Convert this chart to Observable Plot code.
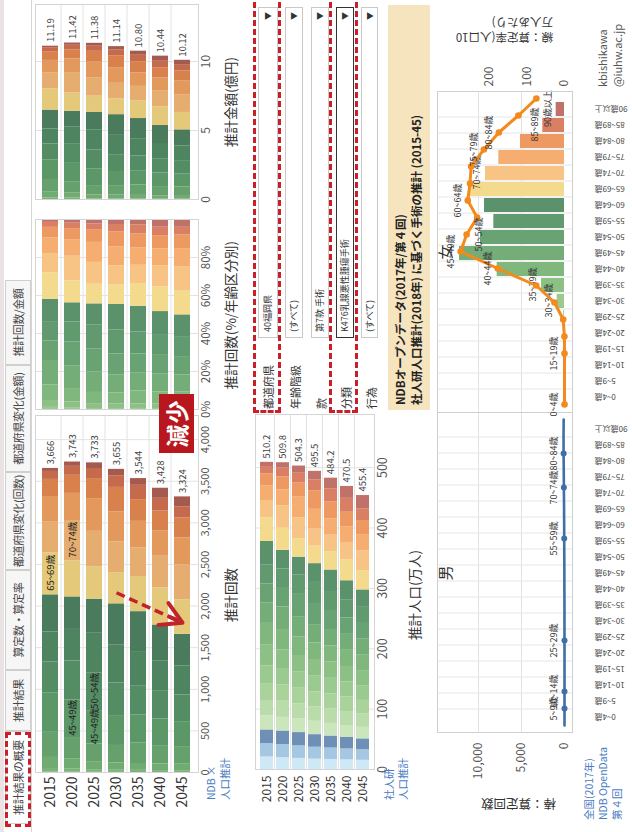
<!DOCTYPE html>
<html lang="ja">
<head>
<meta charset="utf-8">
<script src="https://cdn.jsdelivr.net/npm/d3@7"></script>
<script src="https://cdn.jsdelivr.net/npm/@observablehq/plot@0.6"></script>
<style>
html,body{margin:0;padding:0;background:#fff;width:632px;height:832px;overflow:hidden;}
#root{position:absolute;left:0;top:0;width:832px;height:632px;transform-origin:0 0;transform:translate(0px,832px) rotate(-90deg);font-family:'Noto Sans CJK JP','Noto Sans',sans-serif;color:#333;background:#fff;overflow:hidden;}
#root > *{position:absolute;}
.tab{box-sizing:border-box;border:1px solid #cfcfcf;background:#f6f6f6;font-size:11px;line-height:24px;text-align:center;white-space:nowrap;color:#444;overflow:hidden;letter-spacing:-0.3px;}
.tab.sel{background:#fff;}
.dash{box-sizing:border-box;border:3px dashed #c8202a;}
.flabel{font-size:11px;color:#333;white-space:nowrap;}
.drop{box-sizing:border-box;border:1px solid #c9c9c9;background:#fff;font-size:9px;color:#333;padding-left:5px;white-space:nowrap;}
.drop.on{border:1px solid #333;}
.drop span.arr{position:absolute;right:4px;top:0;font-size:8px;color:#333;}
.ttl{font-size:13.5px;color:#333;text-align:center;white-space:nowrap;}
.link{font-size:10.5px;color:#4a7cc0;line-height:14px;white-space:nowrap;}
.rot{transform:rotate(-90deg);transform-origin:50% 50%;white-space:nowrap;}
</style>
</head>
<body>
<div id="root"></div>
<script>
// ================= DATA =================
const years = ["2015", "2020", "2025", "2030", "2035", "2040", "2045"];
const ageGroups = ["0~4歳", "5~9歳", "10~14歳", "15~19歳", "20~24歳", "25~29歳", "30~34歳", "35~39歳", "40~44歳", "45~49歳", "50~54歳", "55~59歳", "60~64歳", "65~69歳", "70~74歳", "75~79歳", "80~84歳", "85~89歳", "90歳以上"];
const surgeryAges = ["25~29歳", "30~34歳", "35~39歳", "40~44歳", "45~49歳", "50~54歳", "55~59歳", "60~64歳", "65~69歳", "70~74歳", "75~79歳", "80~84歳", "85~89歳", "90歳以上"];

// 推計回数 (福岡県, K476) by year x age (surgeryAges order)
const surgeryCounts = [
  [15, 45, 133, 302, 470, 374, 362, 446, 506, 374, 302, 205, 96, 36],
  [15, 42, 115, 260, 450, 470, 390, 380, 434, 484, 326, 217, 108, 52],
  [14, 25, 96, 220, 400, 450, 480, 410, 386, 429, 393, 241, 121, 68],
  [13, 26, 88, 210, 350, 400, 460, 492, 374, 369, 362, 294, 140, 77],
  [12, 26, 82, 245, 340, 350, 410, 480, 422, 342, 321, 261, 172, 81],
  [11, 24, 80, 220, 320, 340, 360, 430, 444, 382, 302, 241, 153, 121],
  [11, 23, 84, 205, 300, 320, 350, 380, 414, 422, 322, 241, 133, 119]
];
const countTotals = [3666, 3743, 3733, 3655, 3544, 3428, 3324];

// 推計金額 (億円) by year x age
const surgeryAmounts = [
  [0.05, 0.14, 0.41, 0.92, 1.43, 1.14, 1.10, 1.36, 1.54, 1.14, 0.92, 0.63, 0.29, 0.11],
  [0.05, 0.13, 0.35, 0.79, 1.37, 1.43, 1.19, 1.16, 1.32, 1.48, 0.99, 0.66, 0.33, 0.16],
  [0.04, 0.08, 0.29, 0.67, 1.22, 1.37, 1.46, 1.25, 1.18, 1.31, 1.20, 0.74, 0.37, 0.21],
  [0.04, 0.08, 0.27, 0.64, 1.07, 1.22, 1.40, 1.50, 1.14, 1.13, 1.10, 0.90, 0.43, 0.23],
  [0.04, 0.08, 0.25, 0.75, 1.04, 1.07, 1.25, 1.46, 1.29, 1.04, 0.98, 0.80, 0.52, 0.25],
  [0.03, 0.07, 0.24, 0.67, 0.98, 1.04, 1.10, 1.31, 1.35, 1.17, 0.92, 0.74, 0.47, 0.37],
  [0.03, 0.07, 0.26, 0.63, 0.92, 0.98, 1.07, 1.16, 1.26, 1.29, 0.98, 0.74, 0.41, 0.36]
];
const amountTotals = [11.19, 11.42, 11.38, 11.14, 10.80, 10.44, 10.12];

// 推計人口 (万人) by year x age (ageGroups order)
const populationByAge = [
  [22.3, 22.4, 22.5, 23.4, 25.3, 27.0, 30.5, 34.1, 37.6, 32.7, 31.0, 32.0, 38.5, 39.5, 28.4, 24.5, 19.5, 12.3, 6.9],
  [21.0, 22.0, 22.4, 22.6, 26.8, 26.6, 27.5, 30.6, 34.0, 37.3, 32.3, 30.4, 31.1, 36.8, 37.2, 26.3, 21.3, 14.6, 9.0],
  [20.0, 20.8, 22.0, 22.5, 25.0, 26.0, 26.6, 27.6, 30.5, 33.8, 36.9, 31.8, 29.8, 30.2, 34.8, 34.5, 23.3, 16.3, 11.9],
  [18.8, 19.8, 20.8, 22.1, 24.0, 24.5, 27.1, 26.7, 27.5, 30.3, 33.5, 36.4, 31.1, 28.9, 28.7, 32.4, 30.8, 17.6, 14.5],
  [18.3, 19.0, 19.8, 20.9, 24.3, 24.6, 25.8, 26.9, 26.6, 27.3, 30.0, 33.0, 35.6, 30.2, 27.5, 26.9, 28.0, 22.0, 17.5],
  [17.6, 18.1, 19.0, 19.9, 23.0, 24.0, 25.1, 25.6, 26.8, 26.4, 27.0, 29.5, 32.3, 34.5, 28.9, 25.9, 24.2, 23.0, 19.7],
  [16.9, 17.4, 18.1, 19.1, 21.9, 22.7, 24.4, 24.9, 25.5, 26.6, 26.1, 26.6, 28.9, 31.3, 33.1, 27.2, 23.4, 19.4, 21.9]
];
const populationTotals = [510.2, 509.8, 504.3, 495.5, 484.2, 470.5, 455.4];

// 全国 2017 NDB: 棒 = 算定回数, 線 = 算定率 (人口10万人あたり)
const femaleCounts2017 = [0, 0, 0, 0, 20, 120, 850, 2670, 7830, 12210, 9770, 8220, 9300, 11130, 9190, 7640, 5120, 2520, 970];
const femaleRates2017 = [0, 0, 0, 0, 0.3, 3.5, 26.7, 75.5, 178, 277, 261, 233, 258, 252, 249, 215, 175, 123, 75];
const maleCounts2017 = [0, 0, 0, 0, 0, 0, 4, 5, 13, 20, 25, 32, 40, 62, 64, 56, 46, 27, 10];
const maleRates2017 = [0, 0, 0, 0, 0, 0, 0.1, 0.1, 0.3, 0.4, 0.6, 0.8, 1.0, 1.3, 1.7, 2.0, 2.4, 2.6, 2.2];

// labels shown on marks
const countSegmentLabels = [["2015", "65~69歳"], ["2020", "70~74歳"], ["2020", "45~49歳"], ["2025", "45~49歳"], ["2025", "50~54歳"]];
const femaleLineLabels = ["0~4歳", "15~19歳", "40~44歳", "45~49歳", "60~64歳", "75~79歳", "80~84歳"];
const femaleLineLabelsBelow = ["50~54歳"];
const femaleBarLabels = ["30~34歳", "35~39歳", "70~74歳", "85~89歳", "90歳以上"];
const maleLineLabels = ["5~9歳", "10~14歳", "25~29歳", "55~59歳", "70~74歳", "80~84歳"];
const trendArrow = [{x1: 2160, y1: "2030", x2: 1800, y2: "2045"}];

// ticks
const countTicks = [0, 500, 1000, 1500, 2000, 2500, 3000, 3500, 4000];
const shareTicks = [0, 0.2, 0.4, 0.6, 0.8];
const amountTicks = [0, 5, 10];
const populationTicks = [0, 100, 200, 300, 400, 500];
const pyramidCountTicks = [0, 5000, 10000];
const pyramidRateTicks = [0, 100, 200];

// UI text
const tabLabels = ["推計結果の概要", "推計結果", "算定数・算定率", "都道府県変化(回数)", "都道府県変化(金額)", "推計回数/金額"];
const filterLabels = ["都道府県", "年齢階級", "款", "分類", "行為"];
const filterValues = ["40福岡県", "(すべて)", "第7款 手術", "K476乳腺悪性腫瘍手術", "(すべて)"];

// palettes (ageGroups order)
const deepPalette = ["#bcdcec", "#93b9d8", "#5f80a8", "#a8d39c", "#95c78c", "#86bd80", "#7ab478", "#70ab72", "#66a16d", "#5c9768", "#548d64", "#4e8460", "#4a7b5d", "#e4c97b", "#e6ad70", "#e3995c", "#d9814c", "#c66a4e", "#a55a4f"];
const palePalette = ["#cfe8f5", "#a5c7e2", "#6e8fb6", "#cbe5bd", "#b9dcaa", "#a9d39b", "#9aca8f", "#8cc085", "#80b77d", "#74ad77", "#6aa373", "#629a6f", "#5b916b", "#f4da8c", "#f8c486", "#f5ad70", "#ee9862", "#da7f63", "#c0726a"];

// ================= HELPERS =================
const root = document.getElementById("root");
const FONT = "'Noto Sans CJK JP','Noto Sans',sans-serif";
const baseStyle = {fontFamily: FONT, fontSize: "11px", color: "#555", background: "transparent", overflow: "visible"};
const fmtInt = d3.format(",");

function put(node, left, top) {
  node.style.position = "absolute";
  node.style.left = left + "px";
  node.style.top = top + "px";
  root.appendChild(node);
  return node;
}
function box(left, top, width, height, cls, html, css) {
  const d = document.createElement("div");
  if (cls) d.className = cls;
  d.style.cssText = `left:${left}px;top:${top}px;width:${width}px;height:${height}px;${css || ""}`;
  if (html != null) d.innerHTML = html;
  root.appendChild(d);
  return d;
}
function axisFont(svg, axis, size, fill) {
  d3.select(svg).selectAll(`[aria-label^="${axis}-axis"] text`).style("font-size", size + "px").style("fill", fill);
}
function bandDividers(svg, bandAxis, color) {
  const b = svg.scale(bandAxis);
  const o = svg.scale(bandAxis === "y" ? "x" : "y");
  const bw = b.bandwidth || 0;
  const pos = b.domain.map(d => b.apply(d) + bw / 2);
  const g = d3.select(svg).insert("g", ":first-child").attr("stroke", color).attr("stroke-width", 1);
  for (let i = 1; i < pos.length; i++) {
    const p = (pos[i - 1] + pos[i]) / 2;
    if (bandAxis === "y") g.append("line").attr("x1", o.range[0]).attr("x2", o.range[1]).attr("y1", p).attr("y2", p);
    else g.append("line").attr("y1", o.range[0]).attr("y2", o.range[1]).attr("x1", p).attr("x2", p);
  }
}

// ================= TABS =================
box(0, 0, 832, 4, null, null, "background:#e9e3e3;");
const tabEdges = [8, 101, 162, 262, 360, 467, 552];
tabLabels.forEach((t, i) => box(tabEdges[i], 5, tabEdges[i + 1] - tabEdges[i], 26, "tab" + (i === 0 ? " sel" : ""), t));
box(0, 31, 832, 1, null, null, "background:#d6d6d6;");

// ================= ROW 1 =================
const countRows = years.flatMap((year, i) => surgeryAges.map((age, j) => ({year, age, value: surgeryCounts[i][j]})));
const countTotalRows = years.map((year, i) => ({year, total: countTotals[i]}));
const segKeys = new Set(countSegmentLabels.map(([y, a]) => y + "|" + a));

const chartCount = Plot.plot({
  width: 420, height: 185, marginLeft: 59, marginRight: 4, marginTop: 0, marginBottom: 22,
  style: baseStyle,
  x: {domain: [0, 4290], ticks: countTicks, tickFormat: fmtInt, tickSize: 0, tickPadding: 3, label: null},
  y: {domain: years, padding: 0.27, tickSize: 0, tickPadding: 4, label: null},
  color: {domain: ageGroups, range: deepPalette},
  marks: [
    Plot.ruleX(countTicks, {stroke: "#e3e3e3"}),
    Plot.barX(countRows, {x: "value", y: "year", fill: "age"}),
    Plot.textX(countTotalRows, {x: "total", y: "year", text: d => fmtInt(d.total), textAnchor: "start", dx: 3, fontSize: 9.5, fill: "#444"}),
    Plot.textX(countRows, Plot.stackX({x: "value", y: "year", text: d => segKeys.has(d.year + "|" + d.age) ? d.age : null, fontSize: 9.5, fill: "#222"})),
    Plot.frame({stroke: "#d4d4d4"}),
    Plot.link(trendArrow, {x1: "x1", y1: "y1", x2: "x2", y2: "y2", stroke: "#c0242b", strokeWidth: 3.5, strokeDasharray: "9,5"}),
    Plot.arrow(trendArrow, {x1: "x1", y1: "y1", x2: "x2", y2: "y2", stroke: "#c0242b", strokeWidth: 4, headLength: 16, insetStart: 58})
  ]
});
put(chartCount, 0, 35);
bandDividers(chartCount, "y", "#e2e2e2");
axisFont(chartCount, "y", 14, "#333");
axisFont(chartCount, "x", 11, "#555");

const chartShare = Plot.plot({
  width: 198, height: 185, marginLeft: 4, marginRight: 4, marginTop: 0, marginBottom: 22,
  style: baseStyle,
  x: {domain: [0, 1], ticks: shareTicks, tickFormat: d3.format(".0%"), tickSize: 0, tickPadding: 3, label: null},
  y: {domain: years, padding: 0.27, axis: null},
  color: {domain: ageGroups, range: palePalette},
  marks: [
    Plot.ruleX(shareTicks, {stroke: "#e3e3e3"}),
    Plot.barX(countRows, {x: "value", y: "year", fill: "age", offset: "normalize"}),
    Plot.frame({stroke: "#d4d4d4"})
  ]
});
put(chartShare, 418, 35);
bandDividers(chartShare, "y", "#e2e2e2");
axisFont(chartShare, "x", 11.5, "#555");

const amountRows = years.flatMap((year, i) => surgeryAges.map((age, j) => ({year, age, value: surgeryAmounts[i][j]})));
const amountTotalRows = years.map((year, i) => ({year, total: amountTotals[i]}));
const chartAmount = Plot.plot({
  width: 204, height: 185, marginLeft: 4, marginRight: 5, marginTop: 0, marginBottom: 22,
  style: baseStyle,
  x: {domain: [0, 14.13], ticks: amountTicks, tickSize: 0, tickPadding: 3, label: null},
  y: {domain: years, padding: 0.27, axis: null},
  color: {domain: ageGroups, range: deepPalette},
  marks: [
    Plot.ruleX(amountTicks, {stroke: "#e3e3e3"}),
    Plot.barX(amountRows, {x: "value", y: "year", fill: "age"}),
    Plot.textX(amountTotalRows, {x: "total", y: "year", text: d => d3.format(".2f")(d.total), textAnchor: "start", dx: 3, fontSize: 9.5, fill: "#444"}),
    Plot.frame({stroke: "#d4d4d4"})
  ]
});
put(chartAmount, 628, 35);
bandDividers(chartAmount, "y", "#e2e2e2");
axisFont(chartAmount, "x", 12, "#555");

box(137, 220, 200, 18, "ttl", "推計回数");
box(417, 220, 200, 18, "ttl", "推計回数(%/年齢区分別)");
box(630, 220, 200, 18, "ttl", "推計金額(億円)");
box(32, 204, 60, 30, "link", "NDB ×<br>人口推計");

// ================= ROW 2: population =================
const popRows = years.flatMap((year, i) => ageGroups.map((age, j) => ({year, age, value: populationByAge[i][j]})));
const popTotalRows = years.map((year, i) => ({year, total: populationTotals[i]}));
const chartPop = Plot.plot({
  width: 420, height: 140, marginLeft: 62, marginRight: 3, marginTop: 0, marginBottom: 21,
  style: baseStyle,
  x: {domain: [0, 588], ticks: populationTicks, tickSize: 0, tickPadding: 4, label: null},
  y: {domain: years, padding: 0.2, tickSize: 0, tickPadding: 6, label: null},
  color: {domain: ageGroups, range: palePalette},
  marks: [
    Plot.ruleX(populationTicks, {stroke: "#e3e3e3"}),
    Plot.barX(popRows, {x: "value", y: "year", fill: "age"}),
    Plot.textX(popTotalRows, {x: "total", y: "year", text: d => d3.format(".1f")(d.total), textAnchor: "start", dx: 3, fontSize: 9.5, fill: "#444"}),
    Plot.frame({stroke: "#d4d4d4"})
  ]
});
put(chartPop, 0, 255);
bandDividers(chartPop, "y", "#e2e2e2");
axisFont(chartPop, "y", 12, "#333");
axisFont(chartPop, "x", 12.5, "#555");
box(137, 404, 200, 18, "ttl", "推計人口(万人)");
box(32, 382, 60, 30, "link", "社人研<br>人口推計");

// ================= FILTERS =================
const filterTops = [258, 285, 311, 336, 361];
const filterHeights = [20, 18, 18, 18, 17];
filterLabels.forEach((t, i) => {
  box(423, filterTops[i] + 2, 70, 16, "flabel", t);
  box(494, filterTops[i], 331, filterHeights[i], "drop" + (i === 3 ? " on" : ""), filterValues[i] + '<span class="arr">▼</span>', `line-height:${filterHeights[i] - 2}px;`);
});
box(419, 253, 420, 28, "dash");
box(419, 329, 420, 29, "dash");

// ================= TITLE BOX =================
box(422, 388, 405, 42, null,
  "NDBオープンデータ(2017年/第４回)<br>社人研人口推計(2018年) に基づく手術の推計 (2015-45)",
  "background:#f6e4bf;font-size:11.5px;font-weight:700;line-height:16px;padding:4px 0 0 5px;box-sizing:border-box;color:#222;white-space:nowrap;");

// ================= PYRAMID =================
const maleRows = ageGroups.map((age, i) => ({age, count: maleCounts2017[i], rate: maleRates2017[i]}));
const femaleRows = ageGroups.map((age, i) => ({age, count: femaleCounts2017[i], rate: femaleRates2017[i]}));
const pyrCountDomain = [-930, 14770];
const pyrRateDomain = [-21.3, 338.7];

const maleBars = Plot.plot({
  width: 419, height: 195, marginLeft: 99, marginRight: 0, marginTop: 0, marginBottom: 60,
  style: baseStyle,
  x: {domain: ageGroups, padding: 0.12, tickRotate: -90, tickSize: 0, tickPadding: 22, label: null},
  y: {domain: pyrCountDomain, ticks: pyramidCountTicks, tickFormat: fmtInt, tickSize: 0, tickPadding: 10, label: null},
  color: {domain: ageGroups, range: palePalette},
  marks: [
    Plot.ruleY(pyramidCountTicks.slice(1), {stroke: "#e3e3e3"}),
    Plot.barY(maleRows, {x: "age", y: "count", fill: "age"}),
    Plot.frame({stroke: "#cfcfcf"})
  ]
});
put(maleBars, 0, 437);
bandDividers(maleBars, "x", "#e6e6e6");
axisFont(maleBars, "x", 8, "#444");
axisFont(maleBars, "y", 12, "#555");

const maleLabelled = maleRows.filter(d => maleLineLabels.includes(d.age));
const maleLine = Plot.plot({
  width: 419, height: 195, marginLeft: 99, marginRight: 0, marginTop: 0, marginBottom: 60,
  style: baseStyle,
  x: {domain: ageGroups, padding: 0.12, axis: null},
  y: {domain: pyrRateDomain, axis: null},
  marks: [
    Plot.line(maleRows, {x: "age", y: "rate", stroke: "#3f6fa6", strokeWidth: 2.6}),
    Plot.dot(maleLabelled, {x: "age", y: "rate", fill: "#3f6fa6", r: 3}),
    Plot.text(maleLabelled, {x: "age", y: "rate", text: "age", dy: -10, fontSize: 9, fill: "#333"})
  ]
});
put(maleLine, 0, 437);

const femaleBars = Plot.plot({
  width: 413, height: 195, marginLeft: 0, marginRight: 92, marginTop: 0, marginBottom: 60,
  style: baseStyle,
  x: {domain: ageGroups, padding: 0.12, tickRotate: -90, tickSize: 0, tickPadding: 22, label: null},
  y: {domain: pyrCountDomain, axis: null},
  color: {domain: ageGroups, range: palePalette},
  marks: [
    Plot.ruleY(pyramidCountTicks.slice(1), {stroke: "#e3e3e3"}),
    Plot.barY(femaleRows, {x: "age", y: "count", fill: "age"}),
    Plot.text(femaleRows.filter(d => femaleBarLabels.includes(d.age)), {x: "age", y: "count", text: "age", dy: -8, fontSize: 9, fill: "#333"}),
    Plot.frame({stroke: "#cfcfcf"})
  ]
});
put(femaleBars, 419, 437);
bandDividers(femaleBars, "x", "#e6e6e6");
axisFont(femaleBars, "x", 8, "#444");

const femaleLine = Plot.plot({
  width: 413, height: 195, marginLeft: 0, marginRight: 92, marginTop: 0, marginBottom: 60,
  style: baseStyle,
  x: {domain: ageGroups, padding: 0.12, axis: null},
  y: {domain: pyrRateDomain, ticks: pyramidRateTicks, axis: "right", tickSize: 0, tickPadding: 5, label: null},
  marks: [
    Plot.line(femaleRows, {x: "age", y: "rate", stroke: "#f28a1c", strokeWidth: 3}),
    Plot.dot(femaleRows.filter(d => d.rate > 0 || femaleLineLabels.includes(d.age)), {x: "age", y: "rate", fill: "#f28a1c", r: 3.3}),
    Plot.text(femaleRows.filter(d => femaleLineLabels.includes(d.age)), {x: "age", y: "rate", text: "age", dy: -10, fontSize: 9, fill: "#333"}),
    Plot.text(femaleRows.filter(d => femaleLineLabelsBelow.includes(d.age)), {x: "age", y: "rate", text: "age", dy: 12, fontSize: 9, fill: "#333"})
  ]
});
put(femaleLine, 419, 437);
axisFont(femaleLine, "y", 12, "#555");

box(229, 434, 60, 20, null, "男", "font-size:15px;text-align:center;color:#333;");
box(550, 434, 60, 20, null, "女", "font-size:15px;text-align:center;color:#333;");
box(-17, 503, 90, 16, "rot", "棒：算定回数", "font-size:12.5px;color:#333;text-align:left;line-height:16px;");
box(752, 488, 100, 30, "rot", "線：算定率(人口10<br>万人あたり)", "font-size:11.5px;color:#333;text-align:left;line-height:15px;");
box(745, 595, 90, 32, null, "kbishikawa<br>@iuhw.ac.jp", "font-size:11px;color:#555;line-height:15px;white-space:nowrap;");
box(12, 582, 90, 46, "link", "全国(2017年)<br>NDB OpenData<br>第４回");

// ================= ANNOTATIONS =================
box(5, 5, 95, 26, "dash");
box(379, 159, 59, 35, null, "減少", "background:#b8171d;color:#fff;font-size:23px;font-weight:700;text-align:center;line-height:35px;letter-spacing:1px;");
</script>
</body>
</html>
